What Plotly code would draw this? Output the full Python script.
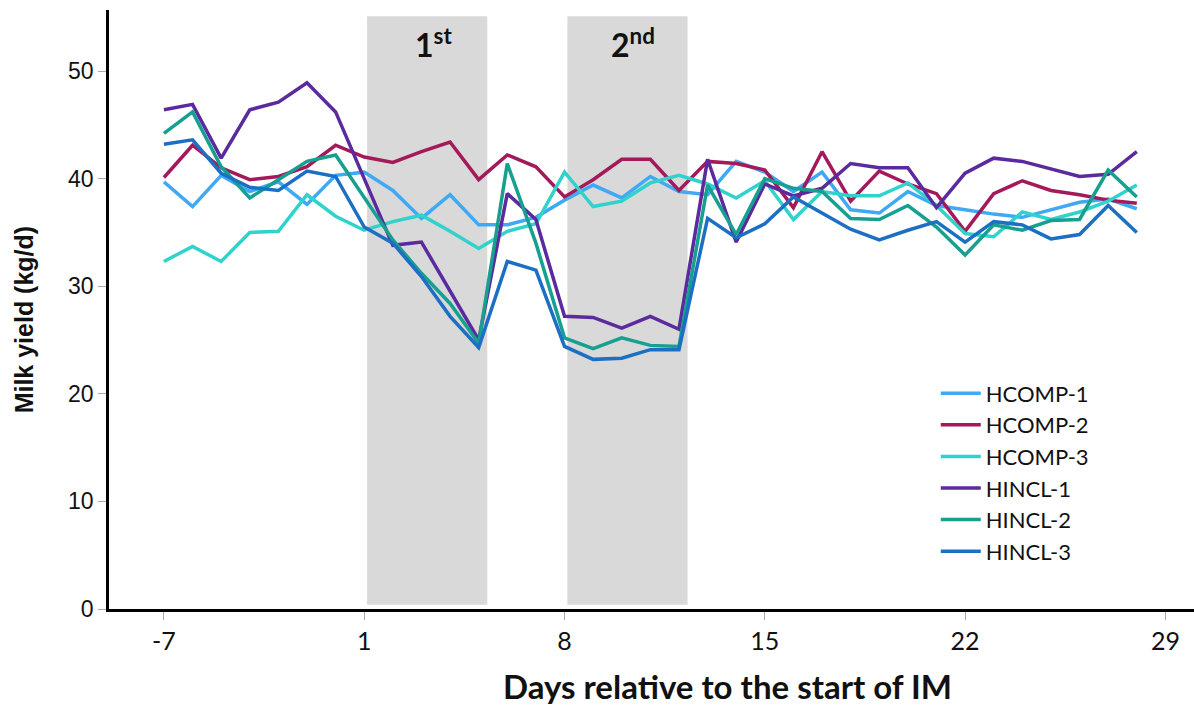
import plotly.graph_objects as go

# Days relative to start of IM (day 0 does not exist on this axis)
days = [-7, -6, -5, -4, -3, -2, -1] + list(range(1, 29))

hcomp_1 = [39.7, 37.4, 40.3, 38.8, 39.7, 37.6, 40.3, 40.6, 38.9, 36.3, 38.5, 35.7,
           35.7, 36.4, 38.0, 39.4, 38.2, 40.2, 38.8, 38.5, 41.6, 40.6, 38.8, 40.6,
           37.1, 36.8, 38.8, 37.5, 37.1, 36.7, 36.4, 37.1, 37.8, 38.1, 37.2]
hcomp_2 = [40.1, 43.1, 41.0, 39.9, 40.2, 41.1, 43.1, 42.0, 41.5, 42.5, 43.4, 39.9,
           42.2, 41.1, 38.3, 39.9, 41.8, 41.8, 38.9, 41.6, 41.4, 40.8, 37.3, 42.5,
           37.9, 40.7, 39.5, 38.6, 35.1, 38.6, 39.8, 38.9, 38.5, 38.0, 37.7]
hcomp_3 = [32.3, 33.7, 32.3, 35.0, 35.1, 38.5, 36.5, 35.2, 36.0, 36.6, 35.1, 33.5,
           35.1, 35.8, 40.6, 37.4, 37.9, 39.6, 40.3, 39.5, 38.2, 39.8, 36.2, 38.8,
           38.4, 38.4, 39.6, 37.5, 34.9, 34.6, 36.9, 36.2, 36.9, 37.9, 39.4]
hincl_1 = [46.4, 46.9, 41.9, 46.4, 47.1, 48.9, 46.2, 40.0, 33.8, 34.1, 29.6, 25.0,
           38.6, 36.2, 27.2, 27.1, 26.1, 27.2, 26.0, 41.8, 34.1, 39.5, 38.4, 39.1,
           41.4, 41.0, 41.0, 37.3, 40.5, 41.9, 41.6, 40.9, 40.2, 40.4, 42.5]
hincl_2 = [44.2, 46.2, 41.1, 38.2, 39.9, 41.6, 42.2, 38.3, 34.3, 31.2, 28.4, 24.7,
           41.4, 34.0, 25.2, 24.2, 25.2, 24.5, 24.4, 39.4, 34.8, 40.0, 39.1, 38.8,
           36.3, 36.2, 37.5, 35.5, 32.9, 35.7, 35.2, 36.1, 36.2, 40.8, 38.3]
hincl_3 = [43.2, 43.6, 40.5, 39.2, 38.9, 40.7, 40.2, 35.5, 34.0, 30.9, 27.2, 24.3,
           32.3, 31.5, 24.4, 23.2, 23.3, 24.1, 24.1, 36.3, 34.5, 35.8, 38.3, 36.8,
           35.3, 34.3, 35.2, 36.0, 34.1, 36.0, 35.7, 34.4, 34.8, 37.5, 35.0]

series_names = ["HCOMP-1", "HCOMP-2", "HCOMP-3", "HINCL-1", "HINCL-2", "HINCL-3"]
series_values = [hcomp_1, hcomp_2, hcomp_3, hincl_1, hincl_2, hincl_3]
series_colors = ["#3FA9F5", "#A4195A", "#30D2CC", "#5A2A9E", "#17A08F", "#1C6FC2"]

tick_days = [-7, 1, 8, 15, 22, 29]
y_ticks = [0, 10, 20, 30, 40, 50]

# Infusion periods (in days) and their labels
shade_periods = [(1.1, 5.3), (8.1, 12.3)]
shade_labels = ["<b>1<sup>st</sup></b>", "<b>2<sup>nd</sup></b>"]


def pos(d):
    """Axis position: day 0 is skipped."""
    return d + 7 if d < 0 else d + 6


x_pos = [pos(d) for d in days]

fig = go.Figure()

for (a, b) in shade_periods:
    fig.add_shape(type="rect", xref="x", yref="y", x0=pos(a), x1=pos(b), y0=0.4, y1=55.1,
                  fillcolor="#D9D9D9", line_width=0, layer="below")

for (a, b), lab in zip(shade_periods, shade_labels):
    fig.add_annotation(x=(pos(a) + pos(b)) / 2, y=52.6, xref="x", yref="y", text=lab,
                       showarrow=False, xshift=6,
                       font=dict(family="Lato", size=32, color="#111"))

for name, vals, col in zip(series_names, series_values, series_colors):
    fig.add_trace(go.Scatter(x=x_pos, y=vals, mode="lines", name=name,
                             line=dict(color=col, width=3.5)))

fig.update_layout(
    width=1194, height=709,
    margin=dict(l=109, r=0, t=10, b=100),
    paper_bgcolor="white", plot_bgcolor="white",
    showlegend=True,
    legend=dict(x=0.762, y=0.395, xanchor="left", yanchor="top",
                font=dict(family="Lato", size=22, color="#111"),
                bgcolor="rgba(0,0,0,0)", itemwidth=40, tracegroupgap=0),
    xaxis=dict(range=[-1.92, 36.0], tickvals=[pos(d) for d in tick_days],
               ticktext=[str(d) for d in tick_days], showgrid=False, zeroline=False,
               showline=True, linecolor="black", linewidth=2.5,
               ticks="outside", ticklen=8, tickcolor="#aaa", tickwidth=1,
               tickfont=dict(family="Lato", size=25, color="#111")),
    yaxis=dict(range=[0, 55.67], tickvals=y_ticks, showgrid=False, zeroline=False,
               showline=True, linecolor="black", linewidth=2.5,
               ticks="outside", ticklen=8, tickcolor="#aaa", tickwidth=1,
               ticklabelstandoff=0,
               tickfont=dict(family="Liberation Sans", size=23, color="#111")),
)

fig.add_annotation(text="<b>Days relative to the start of IM</b>", xref="paper", yref="paper",
                   x=(727 - 109) / 1085, y=-0.128, showarrow=False, xanchor="center",
                   yanchor="middle", font=dict(family="Lato", size=33, color="#111"))
fig.add_annotation(text="<b>Milk yield (kg/d)</b>", xref="paper", yref="paper",
                   x=-0.078, y=(609 - 319) / 599, showarrow=False, textangle=-90,
                   xanchor="center", yanchor="middle",
                   font=dict(family="Liberation Sans", size=25, color="#111"))

fig.write_html("out.html")
